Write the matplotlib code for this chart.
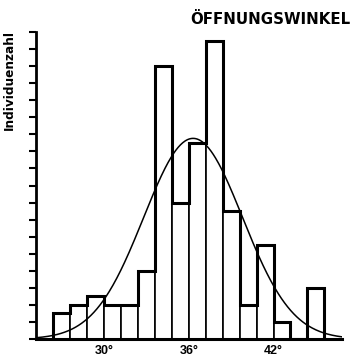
import numpy as np
import matplotlib
matplotlib.use('Agg')
import matplotlib.pyplot as plt

# histogram of opening angles (degrees), bins of 1.2 deg
bin_left = 26.4
bin_width = 1.2
counts = [3, 4, 5, 4, 4, 8, 32, 16, 23, 35, 15, 4, 11, 2, 0, 6]

# fitted normal curve parameters
mu = 36.3
sigma = 3.5

tick_pos = [30, 36, 42]
tick_labels = ['30°', '36°', '42°']

edges = bin_left + bin_width * np.arange(len(counts) + 1)

fig = plt.figure(figsize=(3.52, 3.6), dpi=100)
ax = fig.add_axes([36 / 352, 21 / 360, 306 / 352, 307 / 360])

ax.bar(edges[:-1], counts, width=bin_width, align='edge',
       facecolor='white', edgecolor='black', linewidth=1.2, zorder=2)
ax.stairs(counts, edges, color='black', linewidth=2.2, zorder=3)

x = np.linspace(25.2, 46.85, 400)
n = sum(counts)
y = n * bin_width / (sigma * np.sqrt(2 * np.pi)) * np.exp(-0.5 * ((x - mu) / sigma) ** 2)
ax.plot(x, y, color='black', linewidth=1.1, zorder=4)

ax.set_xlim(25.17, 46.85)
ax.set_ylim(0, 36)
ax.set_yticks(np.arange(0, 37, 2))
ax.set_yticklabels([])
ax.tick_params(axis='y', direction='out', length=5, width=1.5)
ax.set_xticks(tick_pos)
ax.set_xticklabels(tick_labels, fontsize=9, fontweight='bold', family='Liberation Sans')
ax.tick_params(axis='x', length=0, pad=4)

for s in ['top', 'right']:
    ax.spines[s].set_visible(False)
ax.spines['left'].set_linewidth(2)
ax.spines['bottom'].set_linewidth(2.2)

fig.text(9.5 / 352, 1 - 80 / 360, 'Individuenzahl', rotation=90, ha='center', va='center',
         fontsize=8.7, fontweight='bold', family='DejaVu Sans')
fig.text(350 / 352, 1 - 24 / 360, 'ÖFFNUNGSWINKEL', ha='right', va='baseline',
         fontsize=10.8, fontweight='bold', family='DejaVu Sans')

fig.savefig('out.png', dpi=100, facecolor='white')
